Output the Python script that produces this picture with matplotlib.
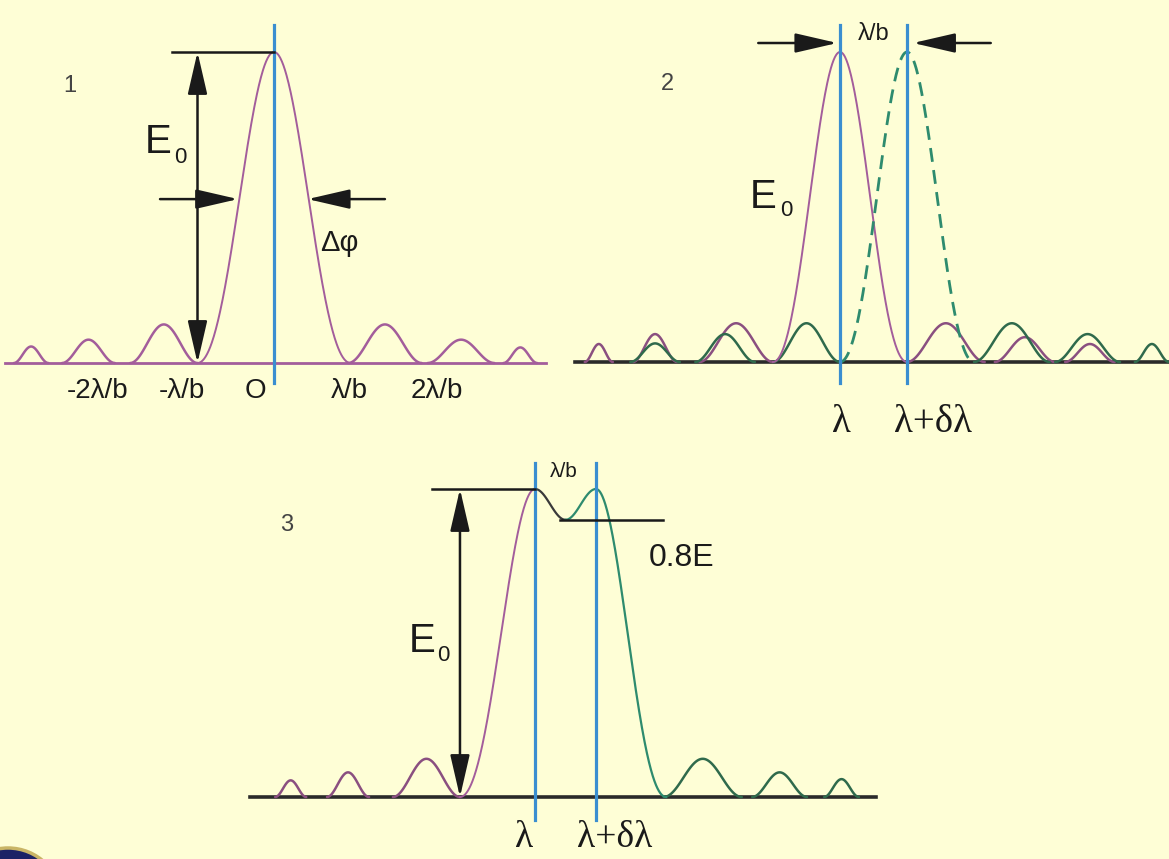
import numpy as np
import matplotlib
matplotlib.use("Agg")
import matplotlib.pyplot as plt
from matplotlib.patches import FancyArrowPatch, ArrowStyle, Circle

# ---------------- data (x in units of lambda/b from the first peak, y in units of E0) ----------
# Panel 1: single diffraction pattern
p1_main_halfwidth = 1.0
p1_lobe_start = [-3.40, -2.77, -1.88, 0.97, 2.01, 3.00]
p1_lobe_end = [-2.95, -2.08, -1.00, 1.93, 2.88, 3.44]
p1_lobe_height = [0.053, 0.075, 0.124, 0.124, 0.075, 0.050]
p1_tick_labels = ["-2λ/b", "-λ/b", "O", "λ/b", "2λ/b"]
p1_tick_label_x = [-2.31, -1.20, -0.24, 0.98, 2.13]

# Panel 2: two patterns separated by lambda/b (Rayleigh criterion)
p2_centers = [0.0, 1.0]
p2_main_halfwidth = 1.0
p2_a_lobe_start = [-3.81, -3.09, -2.10, 1.00, 2.31, 3.36]
p2_a_lobe_end = [-3.39, -2.43, -1.00, 2.16, 3.21, 4.10]
p2_a_lobe_height = [0.058, 0.090, 0.125, 0.125, 0.080, 0.058]
p2_b_lobe_start = [-3.13, -2.16, -1.00, 2.00, 3.21, 4.40]
p2_b_lobe_end = [-2.39, -1.27, 0.00, 3.13, 4.18, 4.91]
p2_b_lobe_height = [0.060, 0.090, 0.125, 0.125, 0.090, 0.058]
p2_labels = ["λ", "λ+δλ"]

# Panel 3: resulting sum curve
p3_peaks = [0.0, 1.0]
p3_left_halfwidth = 1.23
p3_right_halfwidth = 1.15
p3_dip_level = 0.90
p3_left_lobe_start = [-4.26, -3.41, -2.33]
p3_left_lobe_end = [-3.75, -2.72, -1.23]
p3_left_lobe_height = [0.054, 0.080, 0.124]
p3_right_lobe_start = [2.11, 3.56, 4.74]
p3_right_lobe_end = [3.39, 4.46, 5.31]
p3_right_lobe_height = [0.124, 0.080, 0.058]

# ---------------- style ----------------
BG = "#FEFED6"
PURPLE = "#A35D9B"
PURPLE_D = "#8A4F80"
GREEN = "#2E8B6E"
GREEN_D = "#2F6A4C"
BLUE = "#3A8ED0"
BLACK = "#1A1A1A"
SANS = "Liberation Sans"
SERIF = "Liberation Serif"

W, H = 1169, 859
fig = plt.figure(figsize=(W / 100, H / 100), dpi=100, facecolor=BG)


def panel_axes(cx, unit, by, height):
    ax = fig.add_axes([0, 0, 1, 1])
    ax.set_xlim((0 - cx) / unit, (W - cx) / unit)
    ax.set_ylim((by - H) / height, by / height)
    ax.axis("off")
    ax.patch.set_alpha(0)
    return ax


def hump(ax, a, b, h, **kw):
    x = np.linspace(a, b, 80)
    ax.plot(x, h * np.sin(np.pi * (x - a) / (b - a)) ** 2, solid_capstyle="round", **kw)


def lobe_shape(u):
    # bell between the two first zeros (u = -1 .. 1)
    return 0.5 * (np.sinc(u) ** 2 + np.cos(np.pi * u / 2) ** 2)


def main_lobe(ax, c, hw, x0=None, x1=None, **kw):
    x0 = c - hw if x0 is None else x0
    x1 = c + hw if x1 is None else x1
    x = np.linspace(x0, x1, 300)
    ax.plot(x, lobe_shape((x - c) / hw), **kw)


def arrow(ax, p0, p1, style="-|>"):
    st = ArrowStyle(style, head_length=1.3, head_width=0.3)
    ax.add_patch(FancyArrowPatch(p0, p1, arrowstyle=st, mutation_scale=20,
                                 color=BLACK, lw=1.8, shrinkA=0, shrinkB=0,
                                 clip_on=False, zorder=6))


def e0_label(ax, x, y, sub_dx=22, sub_dy=-10):
    ax.text(x, y, "E", fontsize=29, family=SANS, ha="center", va="baseline", color=BLACK)
    ax.annotate("0", xy=(x, y), xytext=(sub_dx, sub_dy), textcoords="offset pixels",
                fontsize=16, family=SANS, ha="center", va="baseline", color=BLACK)


# ================= Panel 1 =================
ax1 = panel_axes(cx=274, unit=76.5, by=363, height=311)
ax1.plot([-3.52, 3.56], [0, 0], color=PURPLE, lw=2.0, zorder=2)
main_lobe(ax1, 0.0, p1_main_halfwidth, color=PURPLE, lw=1.4, zorder=3)
for a, b, h in zip(p1_lobe_start, p1_lobe_end, p1_lobe_height):
    hump(ax1, a, b, h, color=PURPLE, lw=1.8, zorder=3)
ax1.plot([0, 0], [-0.064, 1.087], color=BLUE, lw=2.3, zorder=4)
ax1.plot([-1.333, 0], [1, 1], color=BLACK, lw=1.8, zorder=5)
arrow(ax1, (-1.0, 0.0), (-1.0, 1.0), "<|-|>")
arrow(ax1, (-1.49, 0.527), (-0.47, 0.527))
arrow(ax1, (1.45, 0.527), (0.44, 0.527))
ax1.text(0.85, 0.385, "Δφ", fontsize=21, family=SANS, ha="center", va="center", color=BLACK)
for lab, xl in zip(p1_tick_labels, p1_tick_label_x):
    ax1.text(xl, -0.112, lab, fontsize=20, family=SANS, ha="center", va="baseline", color=BLACK)
ax1.text(-2.67, 0.871, "1", fontsize=17, family=SANS, ha="center", va="baseline", color="#444444")
e0_label(ax1, -1.516, 0.675, sub_dx=22, sub_dy=-10)

# ================= Panel 2 =================
ax2 = panel_axes(cx=840, unit=67, by=362, height=310)
ax2.plot([-3.96, 4.95], [0, 0], color="#2A2A2A", lw=2.6, zorder=2)
for a, b, h in zip(p2_a_lobe_start, p2_a_lobe_end, p2_a_lobe_height):
    hump(ax2, a, b, h, color=PURPLE_D, lw=1.8, zorder=3)
for a, b, h in zip(p2_b_lobe_start, p2_b_lobe_end, p2_b_lobe_height):
    hump(ax2, a, b, h, color=GREEN_D, lw=1.8, zorder=3)
main_lobe(ax2, p2_centers[0], p2_main_halfwidth, color=PURPLE, lw=1.4, zorder=3)
main_lobe(ax2, p2_centers[1], p2_main_halfwidth, color=GREEN, lw=2.0,
          linestyle=(0, (5, 3)), zorder=3)
for c in p2_centers:
    ax2.plot([c, c], [-0.068, 1.087], color=BLUE, lw=2.3, zorder=4)
arrow(ax2, (-1.22, 1.029), (-0.04, 1.029))
arrow(ax2, (2.25, 1.029), (1.09, 1.029))
ax2.text(0.50, 1.039, "λ/b", fontsize=17, family=SANS, ha="center", va="baseline", color=BLACK)
ax2.text(-2.58, 0.877, "2", fontsize=17, family=SANS, ha="center", va="baseline", color="#444444")
e0_label(ax2, -1.14, 0.497, sub_dx=23, sub_dy=-8)
ax2.text(0.015, -0.226, p2_labels[0], fontsize=28, family=SERIF, ha="center", va="baseline", color=BLACK)
ax2.text(1.39, -0.226, p2_labels[1], fontsize=28, family=SERIF, ha="center", va="baseline", color=BLACK)

# ================= Panel 3 =================
ax3 = panel_axes(cx=535, unit=61, by=797, height=308)
ax3.plot([-4.67, 5.59], [0, 0], color="#2A2A2A", lw=2.6, zorder=2)
for a, b, h in zip(p3_left_lobe_start, p3_left_lobe_end, p3_left_lobe_height):
    hump(ax3, a, b, h, color=PURPLE_D, lw=1.8, zorder=3)
for a, b, h in zip(p3_right_lobe_start, p3_right_lobe_end, p3_right_lobe_height):
    hump(ax3, a, b, h, color=GREEN_D, lw=1.8, zorder=3)
main_lobe(ax3, p3_peaks[0], p3_left_halfwidth, x1=p3_peaks[0], color=PURPLE, lw=1.4, zorder=3)
xd = np.linspace(p3_peaks[0], p3_peaks[1], 121)
yd = 1 - (1 - p3_dip_level) * np.sin(np.pi * (xd - p3_peaks[0]) / (p3_peaks[1] - p3_peaks[0])) ** 2
ax3.plot(xd[:61], yd[:61], color="#3A3A3A", lw=1.6, zorder=3)
ax3.plot(xd[60:], yd[60:], color=GREEN, lw=1.6, zorder=3)
main_lobe(ax3, p3_peaks[1], p3_right_halfwidth, x0=p3_peaks[1], color=GREEN, lw=1.6, zorder=3)
for c in p3_peaks:
    ax3.plot([c, c], [-0.075, 1.084], color=BLUE, lw=2.3, zorder=4)
ax3.plot([-1.69, 0], [1, 1], color=BLACK, lw=1.8, zorder=5)
ax3.plot([0.41, 2.10], [p3_dip_level, p3_dip_level], color=BLACK, lw=1.8, zorder=5)
arrow(ax3, (-1.23, 0.0), (-1.23, 1.0), "<|-|>")
ax3.text(0.47, 1.038, "λ/b", fontsize=15, family=SANS, ha="center", va="baseline", color=BLACK)
ax3.text(2.41, 0.750, "0.8E", fontsize=23, family=SANS, ha="center", va="baseline", color=BLACK)
ax3.text(-4.07, 0.864, "3", fontsize=17, family=SANS, ha="center", va="baseline", color="#444444")
e0_label(ax3, -1.85, 0.471, sub_dx=21, sub_dy=-9)
ax3.text(-0.18, -0.163, p2_labels[0], fontsize=27, family=SERIF, ha="center", va="baseline", color=BLACK)
ax3.text(1.31, -0.163, p2_labels[1], fontsize=27, family=SERIF, ha="center", va="baseline", color=BLACK)

# ================= emblem in the corner =================
axo = fig.add_axes([0, 0, 1, 1])
axo.set_xlim(0, W)
axo.set_ylim(H, 0)
axo.axis("off")
axo.patch.set_alpha(0)
axo.add_patch(Circle((8, 902), 54, facecolor="#1B2266", edgecolor="#C9B566", lw=2.5))
axo.add_patch(Circle((8, 902), 42, facecolor="none", edgecolor="#E8E0C0", lw=1.0))

fig.savefig("out.png", dpi=100, facecolor=BG)
